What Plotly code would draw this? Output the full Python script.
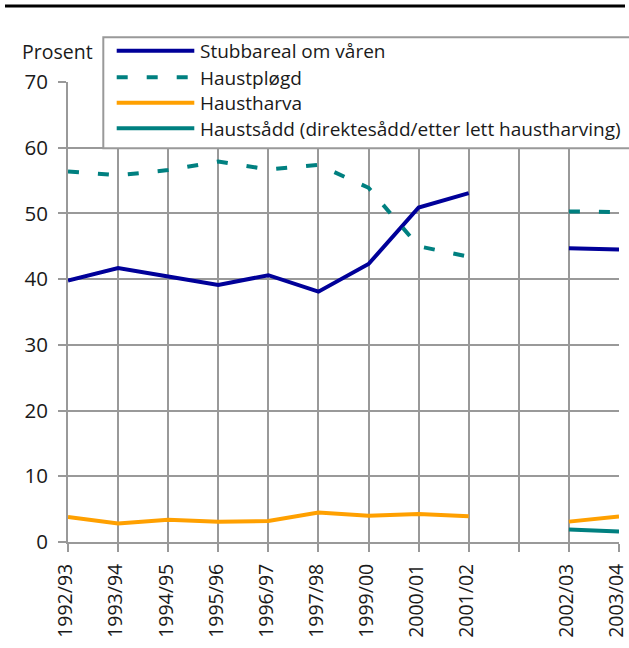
import plotly.graph_objects as go

categories = ["1992/93", "1993/94", "1994/95", "1995/96", "1996/97", "1997/98",
              "1999/00", "2000/01", "2001/02", "", "2002/03", "2003/04"]

stubbareal = [39.8, 41.7, 40.4, 39.1, 40.6, 38.1, 42.3, 50.9, 53.1, None, 44.7, 44.5]
haustplogd = [56.4, 55.8, 56.6, 57.9, 56.7, 57.4, 53.9, 45.0, 43.4, None, 50.3, 50.2]
haustharva = [3.8, 2.8, 3.4, 3.1, 3.2, 4.5, 4.0, 4.25, 3.9, None, 3.1, 3.9]
haustsadd = [None, None, None, None, None, None, None, None, None, None, 1.9, 1.6]

series_names = ["Stubbareal om våren", "Haustpløgd", "Haustharva",
                "Haustsådd (direktesådd/etter lett haustharving)"]
series_colors = ["#000099", "#008080", "#FFA000", "#008080"]
series_dash = ["solid", "11px,19px", "solid", "solid"]
series_values = [stubbareal, haustplogd, haustharva, haustsadd]

y_ticks = [0, 10, 20, 30, 40, 50, 60, 70]

xpos = list(range(len(categories)))
FONT = "Open Sans, DejaVu Sans, sans-serif"
GRID = "#999999"
TXT = "#1a1a1a"

fig = go.Figure()
for name, vals, col, dsh in zip(series_names, series_values, series_colors, series_dash):
    fig.add_trace(go.Scatter(
        x=xpos, y=vals, mode="lines", name=name,
        line=dict(color=col, width=4, dash=dsh),
        connectgaps=False, showlegend=False, hoverinfo="skip"))

W, H = 629, 648
L, R, T, B = 68, 10, 82, 106
pw, ph = W - L - R, H - T - B


def px_x(x):
    return (x - L) / pw


def px_y(y):
    return (H - B - y) / ph


shapes = []
# top black rule
shapes.append(dict(type="line", xref="paper", yref="paper",
                   x0=px_x(5), x1=px_x(625), y0=px_y(6), y1=px_y(6),
                   line=dict(color="black", width=3)))
# legend box
shapes.append(dict(type="rect", xref="paper", yref="paper",
                   x0=px_x(103.3), x1=px_x(640), y0=px_y(148.3), y1=px_y(37.3),
                   fillcolor="white", line=dict(color=GRID, width=2), layer="above"))
rows = [50.7, 77.3, 102.7, 128.3]
annotations = []
for name, col, dsh, ry in zip(series_names, series_colors, series_dash, rows):
    shapes.append(dict(type="line", xref="paper", yref="paper",
                       x0=px_x(116.7), x1=px_x(194.3), y0=px_y(ry), y1=px_y(ry),
                       line=dict(color=col, width=4, dash=dsh)))
    annotations.append(dict(text=name, xref="paper", yref="paper",
                            x=px_x(197.5), y=px_y(ry + 0.5), xanchor="left", yanchor="middle",
                            showarrow=False, font=dict(family=FONT, size=19, color=TXT)))
annotations.append(dict(text="Prosent", xref="paper", yref="paper",
                        x=px_x(95), y=px_y(52), xanchor="right", yanchor="middle",
                        showarrow=False, font=dict(family=FONT, size=19.5, color=TXT)))

fig.update_layout(
    width=W, height=H,
    margin=dict(l=L, r=R, t=T, b=B, pad=0, autoexpand=False),
    paper_bgcolor="white", plot_bgcolor="white",
    font=dict(family=FONT, size=20, color=TXT),
    shapes=shapes, annotations=annotations,
    showlegend=False,
)
fig.update_xaxes(
    range=[0, len(categories) - 1], tickmode="array", tickvals=xpos, ticktext=categories,
    tickangle=-90, showgrid=True, gridcolor=GRID, gridwidth=2,
    ticks="outside", ticklen=8, tickwidth=2, tickcolor=GRID,
    showline=True, linecolor=GRID, linewidth=2, zeroline=False,
    automargin=False, ticklabeloverflow="allow", ticklabelshift=-2,
    ticklabelstandoff=4, tickfont=dict(family=FONT, size=19.5, color=TXT))
fig.update_yaxes(
    range=[0, 70], tickmode="array", tickvals=y_ticks,
    showgrid=True, gridcolor=GRID, gridwidth=2,
    ticks="outside", ticklen=8, tickwidth=2, tickcolor=GRID,
    showline=True, linecolor=GRID, linewidth=2, zeroline=False,
    automargin=False, ticklabeloverflow="allow",
    ticklabelstandoff=6, tickfont=dict(family=FONT, size=20.5, color=TXT))

fig.write_html("out.html", config={"displayModeBar": False},
               post_script="document.body.style.margin='0';document.body.style.overflow='hidden';")
